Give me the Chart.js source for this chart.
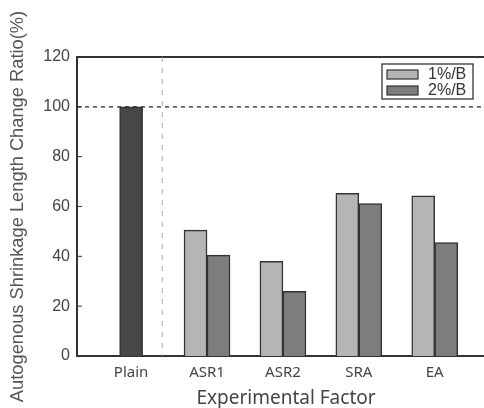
<!DOCTYPE html>
<html>
<head>
<meta charset="utf-8">
<script src="https://cdn.jsdelivr.net/npm/chart.js@4.4.1/dist/chart.umd.min.js"></script>
<style>
  html, body { margin: 0; padding: 0; background: #fff; overflow: hidden; }
  #wrap { position: relative; width: 500px; height: 408px; }
</style>
</head>
<body>
<div id="wrap"><canvas id="chart"></canvas></div>
<script>
  // categories and their positions on the x axis
  const categories = ["Plain", "ASR1", "ASR2", "SRA", "EA"];
  const positions = [0, 1, 2, 3, 4];
  const seriesNames = ["1%/B", "2%/B"];
  const dose1 = [null, 50.5, 38, 65.3, 64.3];
  const dose2 = [100, 40.5, 26, 61.2, 45.5];
  const yTicks = [0, 20, 40, 60, 80, 100, 120];

  const ink = "#333";

  const toPoints = (vals) => vals.map((v, i) => ({ x: positions[i], y: v }));

  // extra lines: frame top, dashed 100% line, divider after Plain, inward ticks, boxed legend
  const decorations = {
    id: "decorations",
    afterDatasetsDraw(chart) {
      const { ctx, chartArea: a, scales } = chart;
      const x = scales.x;
      const y = scales.y;
      ctx.save();

      ctx.strokeStyle = ink;
      ctx.lineWidth = 2;
      ctx.beginPath();
      ctx.moveTo(a.left, a.top);
      ctx.lineTo(a.right, a.top);
      ctx.stroke();

      ctx.lineWidth = 1;
      ctx.beginPath();
      yTicks.forEach((t) => {
        const py = y.getPixelForValue(t);
        ctx.moveTo(a.left, py);
        ctx.lineTo(a.left + 5, py);
      });
      ctx.stroke();

      const dx = x.getPixelForValue(0.41);
      ctx.strokeStyle = "#aaa";
      ctx.setLineDash([5, 6]);
      ctx.beginPath();
      ctx.moveTo(dx, a.top);
      ctx.lineTo(dx, a.bottom);
      ctx.stroke();

      const py = y.getPixelForValue(100);
      ctx.strokeStyle = "#222";
      ctx.lineWidth = 1.3;
      ctx.setLineDash([4, 4]);
      ctx.beginPath();
      ctx.moveTo(a.left, py);
      ctx.lineTo(a.right, py);
      ctx.stroke();
      ctx.setLineDash([]);

      // legend
      const bx = a.right - 113;
      const by = a.top + 7;
      ctx.fillStyle = "#fff";
      ctx.fillRect(bx, by, 91, 35);
      ctx.strokeStyle = ink;
      ctx.lineWidth = 1.3;
      ctx.strokeRect(bx, by, 91, 35);
      ctx.font = "16px 'Liberation Sans', Arial, sans-serif";
      ctx.textBaseline = "middle";
      chart.data.datasets.forEach((ds, i) => {
        const ry = by + 6 + i * 16;
        ctx.fillStyle = ds.legendColor;
        ctx.fillRect(bx + 5, ry, 31, 9);
        ctx.strokeStyle = ink;
        ctx.lineWidth = 1.2;
        ctx.strokeRect(bx + 5, ry, 31, 9);
        ctx.fillStyle = "#333";
        ctx.fillText(ds.label, bx + 46, ry + 5);
      });
      ctx.restore();
    },
  };

  new Chart(document.getElementById("chart"), {
    type: "bar",
    data: {
      datasets: [
        {
          label: seriesNames[0],
          data: toPoints(dose1),
          backgroundColor: "#b5b5b5",
          legendColor: "#b5b5b5",
          borderColor: ink,
          borderWidth: 1.5,
        },
        {
          label: seriesNames[1],
          data: toPoints(dose2),
          backgroundColor: dose2.map((v, i) => (i === 0 ? "#474747" : "#7d7d7d")),
          legendColor: "#7d7d7d",
          borderColor: ink,
          borderWidth: 1.5,
        },
      ],
    },
    options: {
      responsive: true,
      maintainAspectRatio: false,
      animation: false,
      skipNull: true,
      barThickness: 23,
      layout: { padding: { top: 57, right: 5, left: 0, bottom: 0 } },
      plugins: {
        legend: { display: false },
        tooltip: { enabled: false },
      },
      scales: {
        x: {
          type: "linear",
          offset: false,
          min: -0.713,
          max: 4.794,
          afterBuildTicks: (axis) => {
            axis.ticks = positions.map((v) => ({ value: v }));
          },
          afterFit: (s) => {
            s.height = 52;
          },
          grid: { display: false, drawTicks: false, offset: false },
          border: { display: true, color: ink, width: 2 },
          ticks: {
            autoSkip: false,
            maxRotation: 0,
            padding: 8,
            color: "#444",
            font: { family: "'Noto Sans', 'Open Sans', sans-serif", size: 15 },
            callback: (value, index) => categories[index],
          },
          title: {
            display: true,
            text: "Experimental Factor",
            color: "#444",
            padding: { top: 4, bottom: -2 },
            font: { family: "'Noto Sans', 'Open Sans', sans-serif", size: 19 },
          },
        },
        y: {
          min: 0,
          max: 120,
          afterBuildTicks: (axis) => {
            axis.ticks = yTicks.map((v) => ({ value: v }));
          },
          afterFit: (s) => {
            s.width = 77;
          },
          grid: { display: false, drawTicks: false },
          border: { display: true, color: ink, width: 2 },
          ticks: {
            padding: 7,
            color: "#444",
            font: { family: "'Liberation Sans', Arial, sans-serif", size: 16 },
          },
          title: {
            display: true,
            text: "Autogenous Shrinkage Length Change Ratio(%)",
            color: "#555",
            padding: { top: 7, bottom: 0 },
            font: { family: "'Liberation Sans', Arial, sans-serif", size: 18.3 },
          },
        },
      },
    },
    plugins: [decorations],
  });
</script>
</body>
</html>
